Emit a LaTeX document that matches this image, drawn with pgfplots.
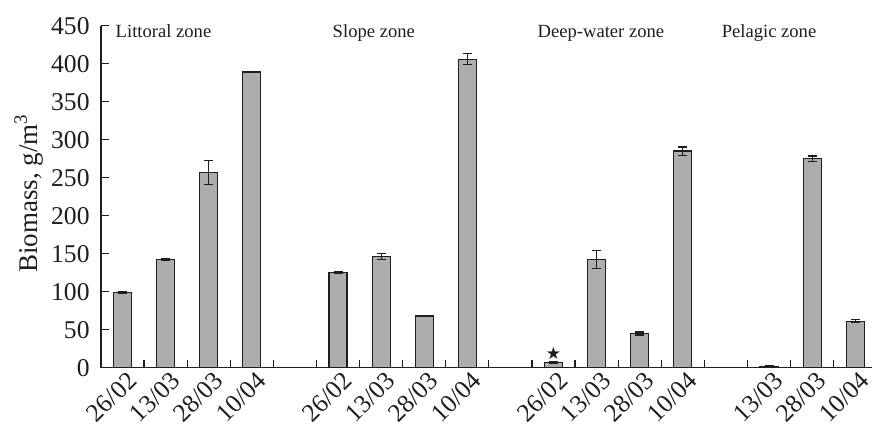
\documentclass[border=0pt]{standalone}
\usepackage{fontspec}
\setmainfont{Liberation Serif}
\newfontfamily\symfont{DejaVu Sans}
\usepackage{pgfplots}
\pgfplotsset{compat=1.18}
\definecolor{barfill}{HTML}{ADADAD}
\definecolor{ink}{HTML}{1E1E1E}

\begin{document}
\begin{tikzpicture}
\begin{axis}[
  name=ax,
  scale only axis,
  width=385.5pt, height=171pt,
  xmin=0, xmax=17.89, ymin=0, ymax=450,
  axis lines=left,
  axis line style={-, ink, line width=0.6pt},
  tick align=inside,
  major tick length=4pt, minor tick length=4pt,
  ytick={0,50,...,450},
  xtick={0.5,1.5,2.5,3.5,5.5,6.5,7.5,8.5,10.5,11.5,12.5,13.5,15.5,16.5,17.5},
  xticklabels={26/02,13/03,28/03,10/04,26/02,13/03,28/03,10/04,26/02,13/03,28/03,10/04,13/03,28/03,10/04},
  minor xtick={1,...,17},
  major x tick style={draw=none},
  minor x tick style={ink, line width=0.6pt},
  major y tick style={ink, line width=0.6pt},
  /pgf/number format/assume math mode=true,
  tick label style={font=\fontsize{12.8}{14}\selectfont, text=ink},
  x tick label style={rotate=45, anchor=north east, inner sep=1pt, xshift=1.5pt, yshift=-1pt},
  y tick label style={inner sep=2pt, xshift=-3.5pt},
  ylabel={Biomass, g/m\textsuperscript{3}},
  ylabel style={at={(axis description cs:-0.113,0.51)}, anchor=north, inner sep=0pt,
    font=\fontsize{13.5}{15}\selectfont, text=ink},
  clip=false,
]
\addplot[ybar, bar width=9pt, fill=barfill, draw=ink, line width=0.6pt,
  error bars/.cd, y dir=both, y explicit,
  error bar style={ink, line width=0.6pt},
  error mark options={rotate=90, ink, line width=0.6pt, mark size=2.25pt}]
coordinates {
  (0.5,99) +- (0,1.5)
  (1.5,142) +- (0,1)
  (2.5,257) +- (0,16)
  (3.5,389) +- (0,1)
  (5.5,125) +- (0,1)
  (6.5,146) +- (0,4)
  (7.5,68) +- (0,1)
  (8.5,406) +- (0,7)
  (10.5,7) +- (0,1)
  (11.5,142) +- (0,12)
  (12.5,45) +- (0,2)
  (13.5,285) +- (0,5.5)
  (15.5,2) +- (0,0.5)
  (16.5,275) +- (0,3.5)
  (17.5,61) +- (0,2)
};
\addplot[draw=none, mark=none, nodes near coords, point meta=explicit symbolic,
  every node near coord/.style={anchor=center, inner sep=0pt, text=ink,
    font=\symfont\fontsize{8.5}{9}\selectfont}]
coordinates {(10.5,19.3) [★]};
\begin{scope}[every node/.style={anchor=base, text=ink, font=\fontsize{9.3}{11}\selectfont}]
\node at (axis cs:1.45,435) {Littoral zone};
\node at (axis cs:6.33,435) {Slope zone};
\node at (axis cs:11.6,435) {Deep-water zone};
\node at (axis cs:15.5,435) {Pelagic zone};
\end{scope}
\end{axis}
\pgfresetboundingbox
\path ([shift={(-50.5pt,-31.65pt)}]ax.south west) rectangle ([shift={(0pt,12.85pt)}]ax.north east);
\end{tikzpicture}
\end{document}
